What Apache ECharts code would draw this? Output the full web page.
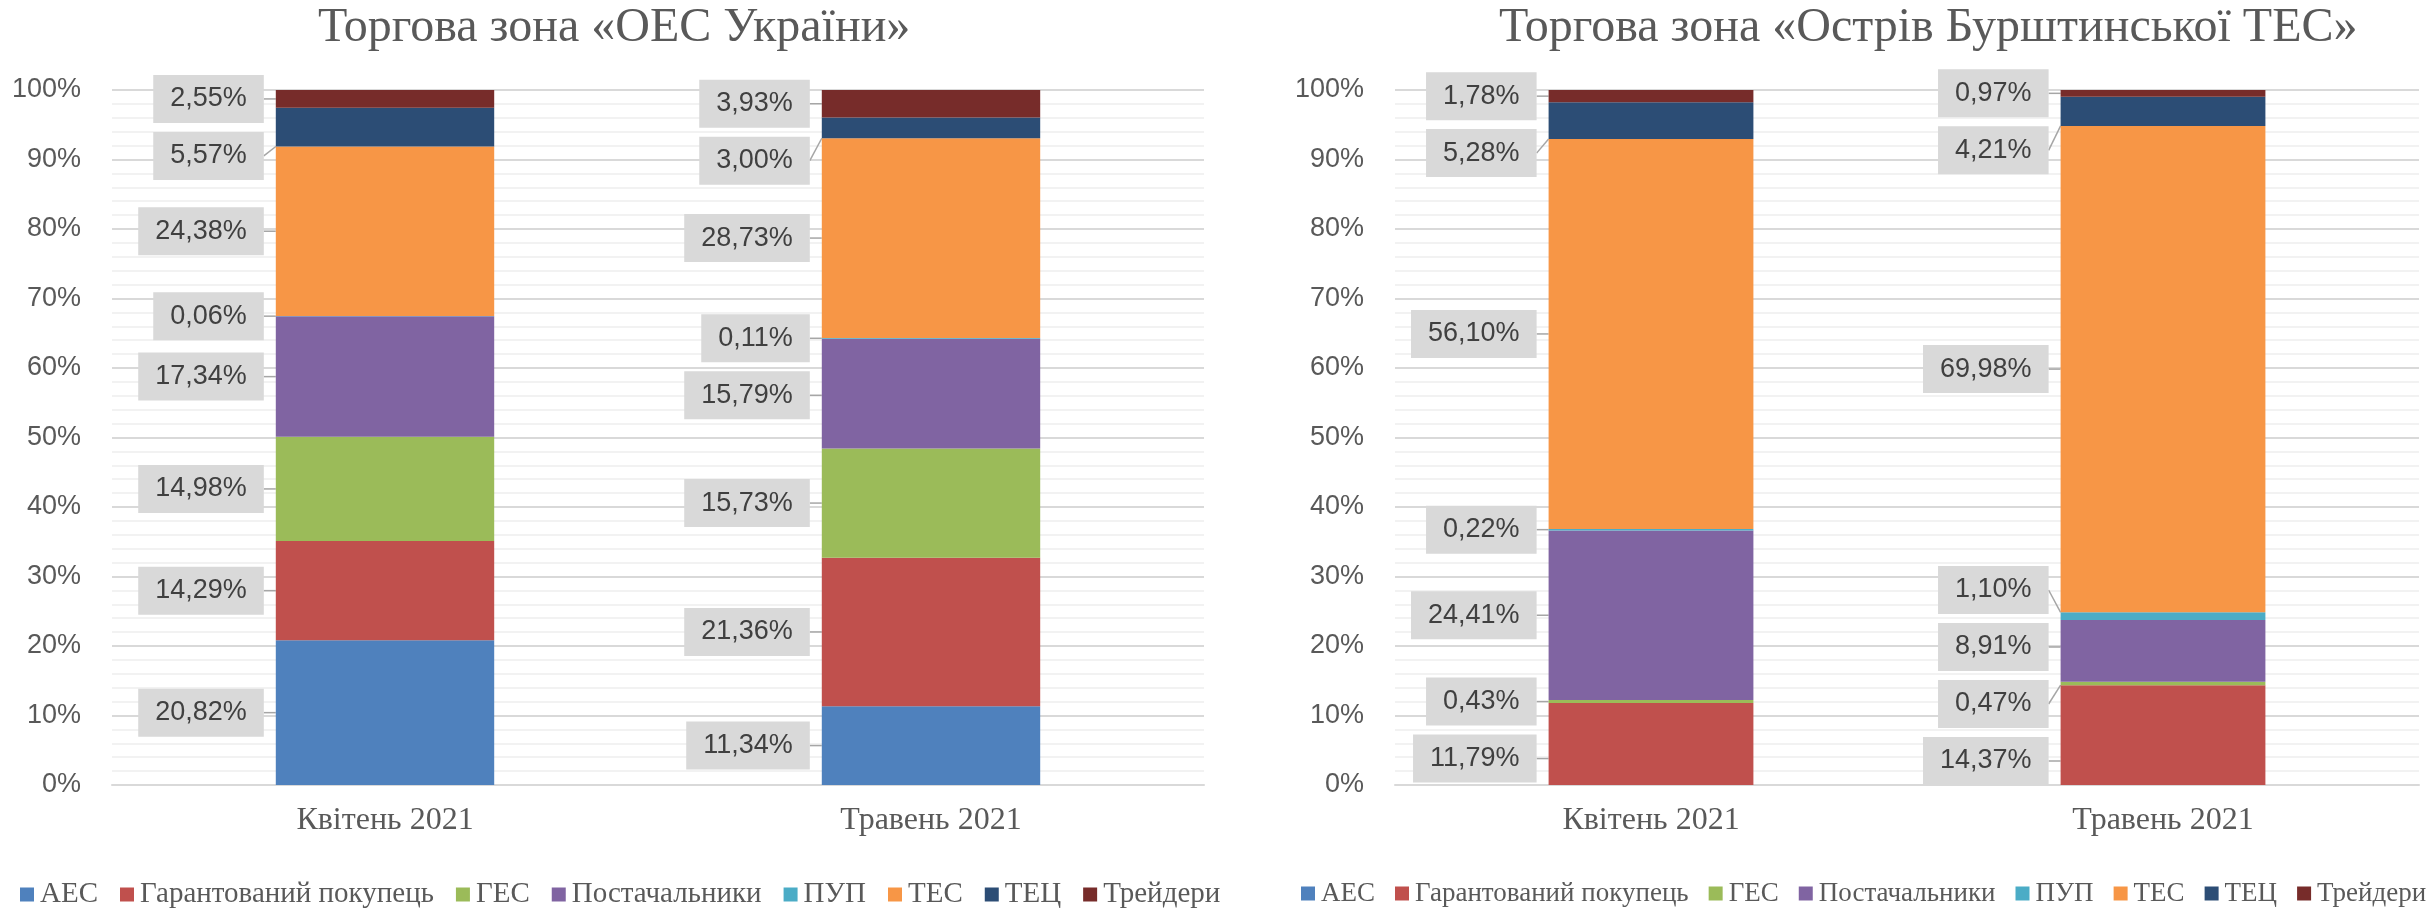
<!DOCTYPE html>
<html>
<head>
<meta charset="utf-8">
<script src="https://cdn.jsdelivr.net/npm/echarts@6/dist/echarts.min.js"></script>
<style>
    html, body { margin: 0; padding: 0; background: #fff; }
    #chart { width: 2435px; height: 911px; }
</style>
</head>
<body>
<div id="chart"></div>
<script>
// categories and series
const months = ["Квітень 2021", "Травень 2021"];
const seriesNames = ["АЕС", "Гарантований покупець", "ГЕС", "Постачальники", "ПУП", "ТЕС", "ТЕЦ", "Трейдери"];
const colors = ["#4F81BD", "#C0504D", "#9BBB59", "#8064A2", "#4BACC6", "#F79646", "#2C4D75", "#772C2A"];
const titles = ["Торгова зона «ОЕС України»", "Торгова зона «Острів Бурштинської ТЕС»"];

// shares, %, in the order of seriesNames
const oesApril = [20.82, 14.29, 14.98, 17.34, 0.06, 24.38, 5.57, 2.55];
const oesMay = [11.34, 21.36, 15.73, 15.79, 0.11, 28.73, 3.00, 3.93];
const burstynApril = [0, 11.79, 0.43, 24.41, 0.22, 56.10, 5.28, 1.78];
const burstynMay = [0, 14.37, 0.47, 8.91, 1.10, 69.98, 4.21, 0.97];

const zones = [[oesApril, oesMay], [burstynApril, burstynMay]];

const grids = [
    {left: 112, right: 1231, top: 90, bottom: 126},
    {left: 1395, right: 16, top: 90, bottom: 126},
];

const fmt = v => v.toFixed(2).replace(".", ",") + "%";

let shifts = {};

function buildSeries() {
    let series = [];
    zones.forEach((cols, g) => {
        seriesNames.forEach((name, i) => {
            series.push({
                name: name,
                type: "bar",
                stack: "zone" + g,
                xAxisIndex: g,
                yAxisIndex: g,
                barWidth: "40%",
                itemStyle: {color: colors[i]},
                data: cols.map(c => c[i] === 0 ? "-" : c[i]),
                label: {
                    show: true,
                    position: "left",
                    distance: 12,
                    formatter: p => fmt(p.value),
                    fontFamily: "Liberation Sans",
                    fontSize: 27,
                    lineHeight: 30,
                    color: "#404040",
                    backgroundColor: "#D9D9D9",
                    padding: [9, 17],
                },
                labelLine: {
                    show: true,
                    lineStyle: {color: "#A6A6A6", width: 1.5},
                },
                labelLayout: p => ({dy: shifts[p.seriesIndex + "_" + p.dataIndex] || 0}),
            });
        });
    });
    return series;
}

let option = {
    animation: false,
    title: titles.map((t, g) => ({
        text: t,
        left: g === 0 ? 318 : 1499,
        top: 4,
        padding: 0,
        textStyle: {fontFamily: "Liberation Serif", fontSize: 48, fontWeight: "normal", color: "#595959"},
    })),
    legend: [0, 1].map(g => ({
        data: seriesNames,
        left: g === 0 ? 20 : 1301,
        top: 880,
        padding: 0,
        itemWidth: 14,
        itemHeight: 14,
        itemGap: g === 0 ? 22 : 20,
        icon: "rect",
        selectedMode: false,
        textStyle: {fontFamily: "Liberation Serif", fontSize: g === 0 ? 29 : 27, color: "#595959", padding: [0, 0, 0, 1]},
    })),
    grid: grids,
    xAxis: [0, 1].map(g => ({
        type: "category",
        gridIndex: g,
        data: months,
        axisLine: {lineStyle: {color: "#D9D9D9", width: 2}},
        axisTick: {show: false},
        axisLabel: {fontFamily: "Liberation Serif", fontSize: 32, color: "#595959", margin: 20},
    })),
    yAxis: [0, 1].map(g => ({
        type: "value",
        gridIndex: g,
        min: 0,
        max: 100,
        interval: 10,
        axisLine: {show: false},
        axisTick: {show: false},
        minorTick: {show: false, splitNumber: 5},
        splitLine: {lineStyle: {color: "#D9D9D9", width: 2}},
        minorSplitLine: {show: true, lineStyle: {color: "#F2F2F2", width: 2}},
        axisLabel: {formatter: "{value}%", fontFamily: "Liberation Sans", fontSize: 27, color: "#595959", margin: 31},
    })),
    series: buildSeries(),
};

let chart = echarts.init(document.getElementById("chart"));
chart.setOption(option);

// spread labels of each column so that the boxes don't overlap (like excel callouts)
const step = 57;
zones.forEach((cols, g) => {
    const bottom = chart.convertToPixel({yAxisIndex: g}, 0) - 24;
    cols.forEach((vals, m) => {
        let cum = 0;
        let items = [];
        vals.forEach((v, i) => {
            let y0 = chart.convertToPixel({yAxisIndex: g}, cum);
            let y1 = chart.convertToPixel({yAxisIndex: g}, cum + v);
            cum += v;
            if (v > 0) items.push({i: i, c: (y0 + y1) / 2});
        });
        items.sort((a, b) => a.c - b.c);
        let ys = items.map(e => e.c);
        for (let k = 1; k < ys.length; k++) ys[k] = Math.max(ys[k], ys[k - 1] + step);
        if (ys[ys.length - 1] > bottom) {
            ys[ys.length - 1] = bottom;
            for (let k = ys.length - 2; k >= 0; k--) ys[k] = Math.min(ys[k], ys[k + 1] - step);
        }
        items.forEach((e, k) => {
            shifts[(g * seriesNames.length + e.i) + "_" + m] = ys[k] - e.c;
        });
    });
});
chart.setOption({series: buildSeries()});
</script>
</body>
</html>
